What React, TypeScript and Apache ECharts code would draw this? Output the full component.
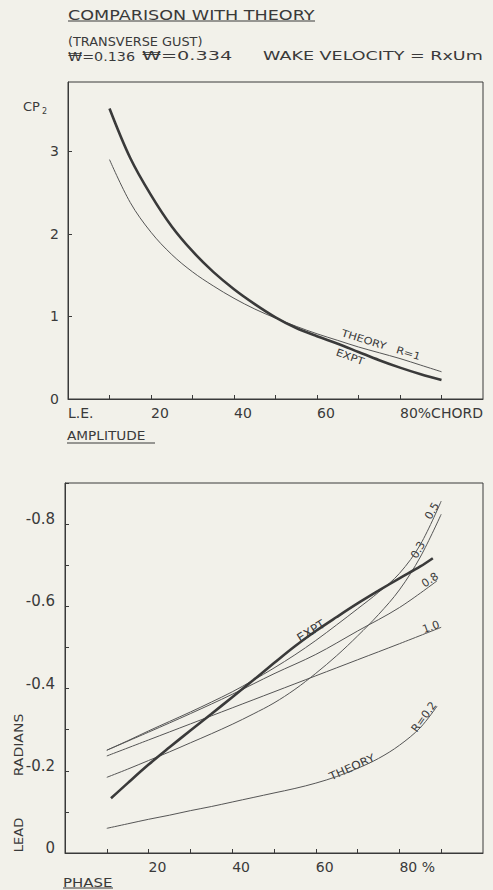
import React, { useEffect, useRef } from "react";
import * as echarts from "echarts";

// ---------- Top chart: amplitude CP2 vs % chord ----------
const ampChord = [10, 15, 20, 25, 30, 35, 40, 45, 50, 55, 60, 65, 70, 75, 80, 85, 90];
const ampExpt = [3.52, 2.92, 2.47, 2.09, 1.79, 1.54, 1.33, 1.15, 0.99, 0.86, 0.76, 0.67, 0.57, 0.47, 0.38, 0.3, 0.23];
const ampTheoryR1 = [2.9, 2.38, 2.02, 1.75, 1.54, 1.37, 1.22, 1.09, 0.98, 0.88, 0.79, 0.71, 0.63, 0.56, 0.49, 0.41, 0.33];
const ampXTickValues = [0, 20, 40, 60, 80];
const ampXTickLabels = ["L.E.", "20", "40", "60", "80%CHORD"];
const ampYTickValues = [0, 1, 2, 3];
const ampYTickLabels = ["0", "1", "2", "3"];

// ---------- Bottom chart: phase lead (radians) vs % chord ----------
const phExptX = [11, 15, 20, 25, 30, 35, 40, 45, 50, 55, 60, 65, 70, 75, 80, 85, 88];
const phExpt = [-0.133, -0.17, -0.215, -0.257, -0.298, -0.338, -0.379, -0.42, -0.462, -0.503, -0.54, -0.574, -0.607, -0.638, -0.668, -0.697, -0.717];
const phR05X = [10, 15, 20, 25, 30, 35, 40, 45, 50, 55, 60, 65, 70, 75, 80, 85, 90];
const phR05 = [-0.25, -0.273, -0.297, -0.32, -0.343, -0.367, -0.392, -0.42, -0.45, -0.482, -0.517, -0.555, -0.594, -0.634, -0.68, -0.75, -0.856];
const phR03X = [10, 15, 20, 25, 30, 35, 40, 45, 50, 55, 60, 65, 70, 75, 80, 85, 90];
const phR03 = [-0.184, -0.204, -0.225, -0.246, -0.268, -0.29, -0.313, -0.338, -0.365, -0.398, -0.437, -0.48, -0.528, -0.58, -0.64, -0.72, -0.824];
const phR08X = [10, 20, 30, 40, 50, 60, 70, 80, 89];
const phR08 = [-0.25, -0.294, -0.339, -0.386, -0.436, -0.483, -0.54, -0.597, -0.662];
const phR10X = [10, 20, 30, 40, 50, 60, 70, 80, 90];
const phR10 = [-0.236, -0.275, -0.314, -0.353, -0.392, -0.431, -0.47, -0.509, -0.549];
const phR02X = [10, 15, 20, 25, 30, 35, 40, 45, 50, 55, 60, 65, 70, 75, 80, 85, 89];
const phR02 = [-0.06, -0.071, -0.082, -0.092, -0.103, -0.113, -0.124, -0.135, -0.146, -0.157, -0.17, -0.186, -0.206, -0.23, -0.262, -0.305, -0.357];
const phXTickValues = [20, 40, 60, 80];
const phXTickLabels = ["20", "40", "60", "80 %"];
const phYTickValues = [0, -0.2, -0.4, -0.6, -0.8];
const phYTickLabels = ["0", "-0.2", "-0.4", "-0.6", "-0.8"];

const INK = "#3a3a3a";
const THIN = "#555555";
const PAPER = "#f2f1ea";
const FONT = "DejaVu Sans";

const pairs = (xs: number[], ys: number[]) => xs.map((x, i) => [x, ys[i]]);
const pick = (vals: number[], labels: string[]) => (v: number) => {
  const i = vals.findIndex((t) => Math.abs(t - v) < 1e-6);
  return i >= 0 ? labels[i] : "";
};

const txt = (text: string, x: number, y: number, opts: any = {}) => ({
  type: "text",
  x,
  y,
  rotation: opts.rotation || 0,
  scaleX: opts.scaleX || 1,
  style: {
    text,
    fill: INK,
    fontSize: opts.fontSize || 13,
    fontFamily: FONT,
    align: opts.align || "left",
    verticalAlign: "middle",
  },
});
const hline = (x1: number, x2: number, y: number) => ({
  type: "line",
  shape: { x1, y1: y, x2, y2: y },
  style: { stroke: INK, lineWidth: 1 },
});

export default function App() {
  const ref = useRef<HTMLDivElement>(null);
  useEffect(() => {
    if (!ref.current) return;
    const chart = echarts.init(ref.current, undefined, { renderer: "svg" });
    const axisCommon = {
      axisLine: { show: true, lineStyle: { color: INK, width: 1 } },
      axisTick: { show: true, inside: true, length: 4, lineStyle: { color: INK } },
      splitLine: { show: false },
    };
    const labelFont = { color: INK, fontFamily: FONT, fontSize: 14 };
    const mkLine = (name: string, data: number[][], xi: number, thick: boolean) => ({
      name,
      type: "line",
      xAxisIndex: xi,
      yAxisIndex: xi,
      data,
      smooth: 0.35,
      showSymbol: false,
      lineStyle: { color: thick ? INK : THIN, width: thick ? 2.6 : 1 },
    });

    chart.setOption({
      animation: false,
      backgroundColor: PAPER,
      grid: [
        { left: 68, top: 82, width: 415, height: 317, show: true, borderColor: INK, borderWidth: 1, backgroundColor: "transparent" },
        { left: 65, top: 483, width: 418, height: 370, show: true, borderColor: INK, borderWidth: 1, backgroundColor: "transparent" },
      ],
      xAxis: [
        {
          type: "value", gridIndex: 0, min: 0, max: 100, interval: 10, ...axisCommon,
          axisLabel: { ...labelFont, align: "left", margin: 7, formatter: pick(ampXTickValues, ampXTickLabels), showMaxLabel: false },
        },
        {
          type: "value", gridIndex: 1, min: 0, max: 100, interval: 10, ...axisCommon,
          axisLabel: { ...labelFont, align: "left", margin: 7, formatter: pick(phXTickValues, phXTickLabels), showMaxLabel: false },
        },
      ],
      yAxis: [
        {
          type: "value", gridIndex: 0, min: 0, max: 3.84, interval: 1, ...axisCommon,
          axisLabel: { ...labelFont, fontSize: 14, margin: 9, formatter: pick(ampYTickValues, ampYTickLabels), showMaxLabel: false },
        },
        {
          type: "value", gridIndex: 1, min: -0.9, max: 0, interval: 0.1, inverse: true, ...axisCommon,
          axisLabel: { ...labelFont, fontSize: 15, margin: 10, verticalAlign: "bottom", lineHeight: 10, formatter: pick(phYTickValues, phYTickLabels) },
        },
      ],
      series: [
        mkLine("THEORY R=1", pairs(ampChord, ampTheoryR1), 0, false),
        mkLine("EXPT", pairs(ampChord, ampExpt), 0, true),
        mkLine("R=0.2", pairs(phR02X, phR02), 1, false),
        mkLine("R=1.0", pairs(phR10X, phR10), 1, false),
        mkLine("R=0.8", pairs(phR08X, phR08), 1, false),
        mkLine("R=0.5", pairs(phR05X, phR05), 1, false),
        mkLine("R=0.3", pairs(phR03X, phR03), 1, false),
        mkLine("EXPT phase", pairs(phExptX, phExpt), 1, true),
      ],
      graphic: [
        txt("COMPARISON WITH THEORY", 68, 15, { fontSize: 14, scaleX: 1.255 }),
        hline(68, 315, 21),
        txt("(TRANSVERSE GUST)", 68, 41, { fontSize: 13, scaleX: 0.99 }),
        txt("₩=0.136", 68, 56, { fontSize: 13, scaleX: 1.1 }),
        txt("₩=0.334", 142, 56, { fontSize: 13, scaleX: 1.48 }),
        txt("WAKE VELOCITY = RxUm", 263, 56, { fontSize: 13, scaleX: 1.35 }),
        txt("CP", 23, 106, { fontSize: 13 }),
        txt("2", 42, 111, { fontSize: 8 }),
        txt("THEORY   R=1", 381, 345, { fontSize: 10, align: "center", rotation: -0.3, scaleX: 1.15 }),
        txt("EXPT", 350, 357, { fontSize: 10, align: "center", rotation: -0.35, scaleX: 1.15 }),
        txt("AMPLITUDE", 67, 436, { fontSize: 13, scaleX: 1.05 }),
        hline(67, 155, 443),
        txt("EXPT", 311, 631, { fontSize: 12, align: "center", rotation: 0.56 }),
        txt("THEORY", 352, 767, { fontSize: 11, align: "center", rotation: 0.42, scaleX: 1.1 }),
        txt("R=0.2", 424, 717, { fontSize: 11, align: "center", rotation: 0.95 }),
        txt("1.0", 431, 627, { fontSize: 11, align: "center", rotation: 0.35 }),
        txt("0.8", 430, 580, { fontSize: 11, align: "center", rotation: 0.6 }),
        txt("0.3", 418, 550, { fontSize: 11, align: "center", rotation: 1.05 }),
        txt("0.5", 432, 511, { fontSize: 11, align: "center", rotation: 1.05 }),
        txt("LEAD", 18, 835, { fontSize: 13, align: "center", rotation: Math.PI / 2 }),
        txt("RADIANS", 18, 745, { fontSize: 13, align: "center", rotation: Math.PI / 2, scaleX: 1.08 }),
        txt("PHASE", 63, 882, { fontSize: 13, scaleX: 1.15 }),
        hline(63, 113, 888),
      ],
    });
    return () => chart.dispose();
  }, []);
  return (
    <div
      ref={ref}
      style={{ position: "fixed", left: 0, top: 0, width: 493, height: 890 }}
    />
  );
}
